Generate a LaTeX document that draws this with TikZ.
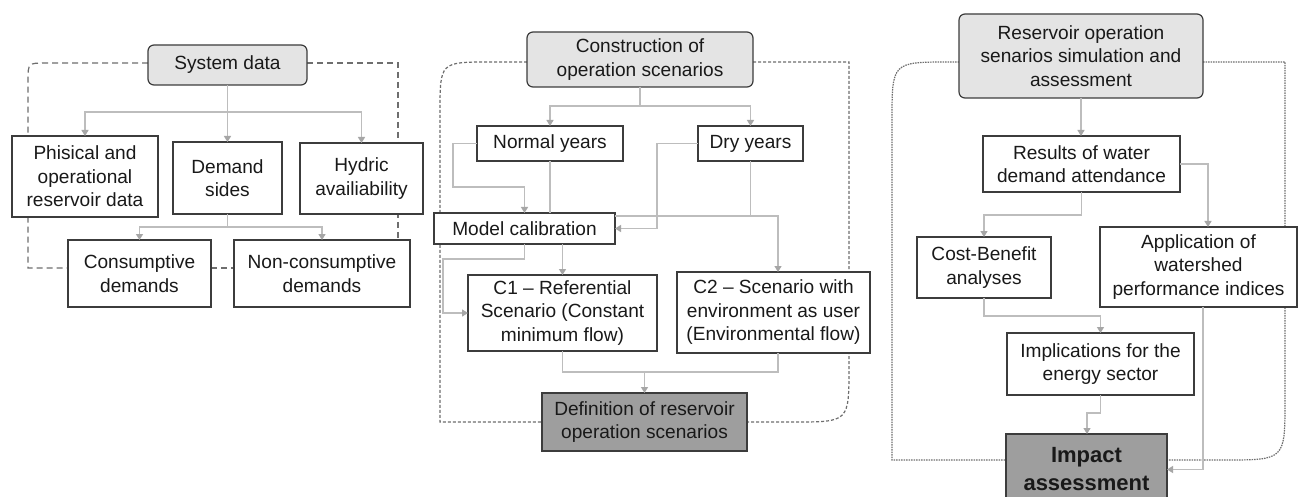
\documentclass[tikz,border=0pt]{standalone}
\usepackage{fontspec}
\setmainfont{Liberation Sans}
\usetikzlibrary{arrows.meta,calc}
\definecolor{bord}{HTML}{3C3C3C}
\definecolor{lnc}{HTML}{BDBDBD}
\definecolor{tipc}{HTML}{A6A6A6}
\definecolor{frc}{HTML}{6E6E6E}
\definecolor{lightf}{HTML}{E4E4E4}
\definecolor{darkf}{HTML}{9E9E9E}
\tikzset{
  box/.style={draw=bord, line width=1.2pt, fill=white, inner sep=0pt, outer sep=0pt, align=center,
    font=\fontsize{19.1}{23.5}\selectfont, text=black!90},
  topbox/.style={box, fill=lightf, rounded corners=6pt},
  endbox/.style={box, fill=darkf},
  ln/.style={draw=lnc, line width=1.3pt},
  arr/.style={ln, -{Triangle[width=7pt,length=6pt,color=tipc]}},
  frameA/.style={draw=frc, line width=1.2pt, dash pattern=on 6pt off 4pt},
  frameB/.style={draw=frc, line width=1.2pt, dash pattern=on 3pt off 2pt},
  frameC/.style={draw=frc, line width=1.2pt, dash pattern=on 1.5pt off 1pt},
}
\begin{document}
\begin{tikzpicture}[x=1pt,y=-1pt]
\useasboundingbox[fill=white] (0,0) rectangle (1298,497);

% ---------- Panel 1 frame ----------
\draw[frameA] (148,63) -- (46,63) .. controls (28,63) .. (28,81) -- (28,268) -- (68,268);
\draw[frameA] (211,268) -- (234,268);
\draw[frameA] (307,63) -- (398,63) -- (398,240);
% ---------- Panel 2 frame ----------
\draw[frameB] (527,62) -- (490,62) .. controls (440,62) .. (440,112) -- (440,422) -- (542,422);
\draw[frameB] (753,62) -- (849,62) -- (849,367) .. controls (849,422) .. (794,422) -- (747,422);
% ---------- Panel 3 frame ----------
\draw[frameC] (959,62) -- (950,62) .. controls (892,62) .. (892,120) -- (892,460) -- (1006,460);
\draw[frameC] (1203,62) -- (1285,62) -- (1285,400) .. controls (1285,460) .. (1225,460) -- (1167,460);

% ---------- Panel 1 nodes ----------
\node[topbox, minimum width=159pt, minimum height=40pt] (sys) at (227.5,65) {System data};
\node[box, minimum width=146pt, minimum height=81pt] (phys) at (85,176.5) {Phisical and\\operational\\reservoir data};
\node[box, minimum width=109pt, minimum height=72pt] (dem) at (227.5,178) {Demand\\sides};
\node[box, minimum width=123pt, minimum height=71pt] (hyd) at (361.5,178.5) {Hydric\\availiability};
\node[box, minimum width=143pt, minimum height=67pt] (consd) at (139.5,273.5) {Consumptive\\demands};
\node[box, minimum width=176pt, minimum height=67pt] (noncons) at (322,273.5) {Non-consumptive\\demands};

% ---------- Panel 2 nodes ----------
\node[topbox, minimum width=226pt, minimum height=55pt] (cons) at (640,59.5) {Construction of\\operation scenarios};
\node[box, minimum width=146pt, minimum height=35pt] (normal) at (550,143.5) {Normal years};
\node[box, minimum width=105pt, minimum height=35pt] (dry) at (750.5,143.5) {Dry years};
\node[box, minimum width=181pt, minimum height=31pt] (mc) at (524.5,228.5) {Model calibration};
\node[box, minimum width=189pt, minimum height=76pt] (c1) at (562.5,313) {C1 – Referential\\Scenario (Constant\\minimum flow)};
\node[box, minimum width=193pt, minimum height=81pt] (c2) at (773.5,312.5) {C2 – Scenario with\\environment as user\\(Environmental flow)};
\node[endbox, minimum width=205pt, minimum height=58pt] (def) at (644.5,422) {Definition of reservoir\\operation scenarios};

% ---------- Panel 3 nodes ----------
\node[topbox, minimum width=244pt, minimum height=84pt] (res) at (1081,56) {Reservoir operation\\senarios simulation and\\assessment};
\node[box, minimum width=197pt, minimum height=56pt] (results) at (1081.5,164) {Results of water\\demand attendance};
\node[box, minimum width=134pt, minimum height=61pt] (cb) at (984,267.5) {Cost-Benefit\\analyses};
\node[box, minimum width=197pt, minimum height=80pt] (app) at (1198.5,267) {Application of\\watershed\\performance indices};
\node[box, minimum width=187pt, minimum height=62pt] (impl) at (1100.5,364) {Implications for the\\energy sector};
\node[endbox, minimum width=161pt, minimum height=71pt, font=\fontsize{22}{28}\selectfont\bfseries] (imp) at (1086.5,469.5) {Impact\\assessment};

% ---------- Panel 1 connectors ----------
\coordinate (j1) at (227.5,112);
\draw[ln] (sys.south) -- (j1);
\draw[arr] (j1) -| (phys.north);
\draw[arr] (j1) -- (dem.north);
\draw[arr] (j1) -| (hyd.north);
\coordinate (j2) at (227.5,227);
\draw[ln] (dem.south) -- (j2);
\draw[arr] (j2) -| (consd.north);
\draw[arr] (j2) -| (noncons.north);

% ---------- Panel 2 connectors ----------
\coordinate (j3) at (640,106);
\draw[ln] (cons.south) -- (j3);
\draw[arr] (j3) -| (normal.north);
\draw[arr] (j3) -| (dry.north);
\draw[arr] (normal.west) -- ++(-24,0) |- (524.5,187) -- (mc.north);
\draw[ln] (normal.south) -- (normal.south |- mc.north);
\draw[arr] (mc.south -| c1.north) -- (c1.north);
\draw[arr] (mc.south) -- ++(0,15) -| (443,290) |- (c1.west);
\draw[arr] (dry.west) -- (657,143.5) |- (mc.east);
\draw[ln] (dry.south) -- (750.5,216);
\coordinate (c2in) at ($(c2.north)+(4.5,0)$);
\draw[arr] (mc.east |- 0,216) -| (c2in);
\coordinate (j4) at (644.5,372);
\draw[ln] (c1.south) -- (562.5,372) -- (778,372) -- ($(c2.south)+(4.5,0)$);
\draw[arr] (j4) -- (def.north);

% ---------- Panel 3 connectors ----------
\draw[arr] (res.south) -- (res.south |- results.north);
\draw[arr] (results.south) -- ++(0,23) -| (cb.north);
\draw[arr] (results.east) -| ($(app.north)+(9.5,0)$);
\draw[arr] (cb.south) -- ++(0,18) -| (impl.north);
\draw[arr] (impl.south) -- ++(0,18) -| ($(imp.north)+(0.5,0)$);
\draw[arr] ($(app.south)+(4.5,0)$) |- (imp.east);
\end{tikzpicture}
\end{document}
